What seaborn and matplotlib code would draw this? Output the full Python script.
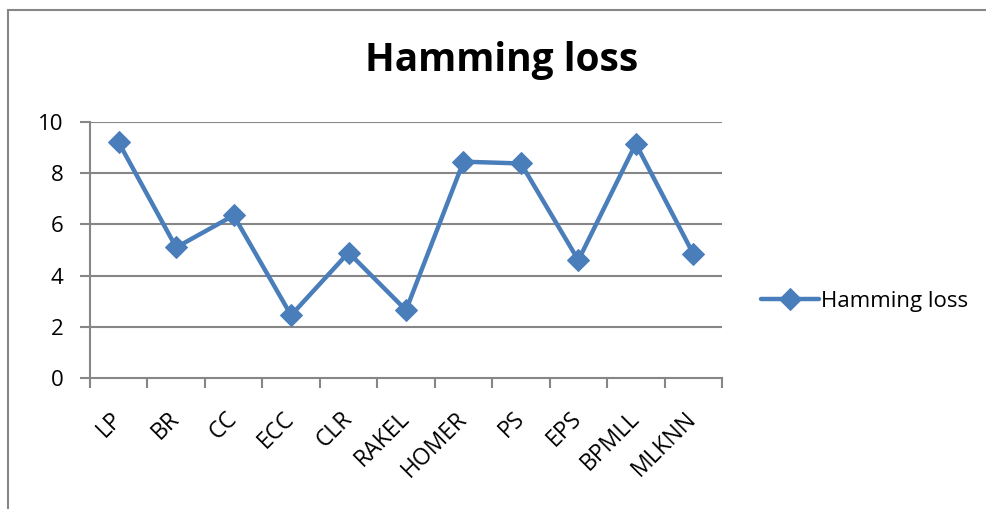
import matplotlib
matplotlib.use("Agg")
import matplotlib.pyplot as plt
import numpy as np
import pandas as pd
import seaborn as sns
from matplotlib.patches import Rectangle

methods = ["LP", "BR", "CC", "ECC", "CLR", "RAKEL", "HOMER", "PS", "EPS",
           "BPMLL", "MLKNN"]
hamming = [9.2, 5.1, 6.35, 2.45, 4.9, 2.65, 8.45, 8.38, 4.6, 9.15, 4.85]
y_ticks = [0, 2, 4, 6, 8, 10]

df = pd.DataFrame({"method": methods, "Hamming loss": hamming})

sns.set_style("white")
plt.rcParams["font.family"] = ["Open Sans", "DejaVu Sans"]
plt.rcParams["text.color"] = "black"
plt.rcParams["xtick.color"] = "black"
plt.rcParams["ytick.color"] = "black"

blue = "#4A7EBB"
grey = "#868686"

fig = plt.figure(figsize=(9.87, 5.09), dpi=100)
ax = fig.add_axes([90 / 987, 1 - 378 / 509, 632 / 987, 256 / 509])

x = np.arange(len(methods))
sns.lineplot(x=x, y=df["Hamming loss"], ax=ax, color=blue, linewidth=3.2,
             marker="D", markersize=11, markeredgecolor=blue,
             label="Hamming loss", sort=False)

ax.set_xlim(-0.5, len(methods) - 0.5)
ax.set_ylim(0, 10)
ax.set_yticks(y_ticks)
ax.set_xticks(x)
ax.set_xticklabels(methods, rotation=45, ha="right", va="center",
                   rotation_mode="anchor", fontsize=16.5)
ax.set_xticks(np.arange(-0.5, len(methods)), minor=True)
ax.tick_params(axis="x", which="major", bottom=True, length=0, pad=27)
ax.tick_params(axis="x", which="minor", bottom=True, length=7, color=grey,
               width=1.5, direction="out")
ax.tick_params(axis="y", left=True, length=7, color=grey, width=1.5,
               direction="out", labelsize=16, pad=12, labelcolor="black")
for lab in ax.get_xticklabels():
    lab.set_color("black")
ax.set_xlabel("")
ax.set_ylabel("")

for v in y_ticks[1:]:
    ax.axhline(v, color=grey, linewidth=1.5, zorder=0)

for side in ["top", "right"]:
    ax.spines[side].set_visible(False)
for side in ["left", "bottom"]:
    ax.spines[side].set_color(grey)
    ax.spines[side].set_linewidth(1.5)

ax.legend(loc="center left", bbox_to_anchor=(1.03, 0.3), frameon=False,
          fontsize=16, handlelength=2.6, handletextpad=0.1, labelcolor="black")

fig.text(502 / 987, 1 - 60 / 509, "Hamming loss", ha="center", va="center",
         fontsize=28, fontweight="bold", color="black")

fig.patches.append(Rectangle((8 / 987, -0.1), 1.2, 1 - 10 / 509 + 0.1,
                             transform=fig.transFigure, fill=False,
                             edgecolor=grey, linewidth=1.5))

fig.savefig("out.png", dpi=100)
